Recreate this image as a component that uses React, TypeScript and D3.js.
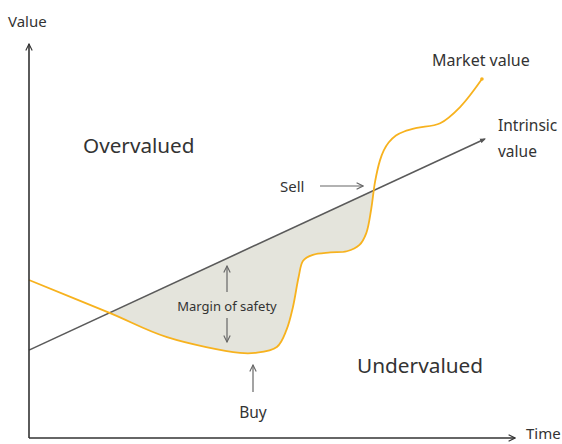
import React, { useEffect, useRef } from "react";
import * as d3 from "d3";

// market value curve (time, value)
const marketTime = [0, 1.67, 2.84, 4.34, 4.65, 5.1, 5.3, 5.43, 5.55, 5.64, 5.84, 6.2, 6.54, 6.8, 6.94, 7.04, 7.12, 7.22, 7.3, 7.4, 7.55, 7.72, 7.98, 8.46, 8.87, 9.32];
const marketValue = [4.01, 3.17, 2.56, 2.16, 2.16, 2.31, 2.75, 3.32, 4.1, 4.5, 4.65, 4.71, 4.74, 4.9, 5.2, 5.8, 6.5, 7.04, 7.3, 7.5, 7.68, 7.78, 7.87, 7.99, 8.4, 9.11];

// intrinsic value straight line
const intrinsicTime = [0, 9.38];
const intrinsicValue = [2.23, 7.59];

const width = 562;
const height = 444;

function App() {
  const ref = useRef<SVGSVGElement>(null);

  useEffect(() => {
    const svg = d3.select(ref.current);
    svg.selectAll("*").remove();

    const x = d3.scaleLinear().domain([0, 10]).range([29, 515]);
    const y = d3.scaleLinear().domain([0, 10]).range([438, 44]);

    const market = marketTime.map((t, i) => [t, marketValue[i]] as [number, number]);
    const intrinsic = intrinsicTime.map((t, i) => [t, intrinsicValue[i]] as [number, number]);
    const curve = d3.curveCatmullRom.alpha(0.5);

    const defs = svg.append("defs");
    const arrow = (id: string, color: string) =>
      defs
        .append("marker")
        .attr("id", id)
        .attr("viewBox", "0 0 10 10")
        .attr("refX", 9)
        .attr("refY", 5)
        .attr("markerWidth", 8)
        .attr("markerHeight", 8)
        .attr("markerUnits", "userSpaceOnUse")
        .attr("orient", "auto")
        .append("path")
        .attr("d", "M1,1 L9,5 L1,9")
        .attr("fill", "none")
        .attr("stroke", color)
        .attr("stroke-width", 1.4);
    arrow("axisArrow", "#333");
    arrow("thinArrow", "#666");

    defs
      .append("marker")
      .attr("id", "tri")
      .attr("viewBox", "0 0 10 10")
      .attr("refX", 8)
      .attr("refY", 5)
      .attr("markerWidth", 6)
      .attr("markerHeight", 6)
      .attr("markerUnits", "userSpaceOnUse")
      .attr("orient", "auto")
      .append("path")
      .attr("d", "M0,1 L10,5 L0,9 Z")
      .attr("fill", "#555");

    // clip: everything below the intrinsic line
    const clipLine = d3.line<[number, number]>().x((d) => x(d[0])).y((d) => y(d[1]));
    defs
      .append("clipPath")
      .attr("id", "belowIntrinsic")
      .append("path")
      .attr("d", clipLine([...intrinsic, [intrinsicTime[1], 0], [0, 0]]) + "Z");

    // margin of safety: above market, below intrinsic
    const gap = d3
      .area<[number, number]>()
      .x((d) => x(d[0]))
      .y0(y(10))
      .y1((d) => y(d[1]))
      .curve(curve);
    svg
      .append("path")
      .datum(market)
      .attr("d", gap)
      .attr("fill", "#e4e4dc")
      .attr("clip-path", "url(#belowIntrinsic)");

    // intrinsic value
    svg
      .append("path")
      .datum(intrinsic)
      .attr("d", d3.line<[number, number]>().x((d) => x(d[0])).y((d) => y(d[1])))
      .attr("fill", "none")
      .attr("stroke", "#5a5a5a")
      .attr("stroke-width", 1.6)
      .attr("marker-end", "url(#tri)");

    // market value
    svg
      .append("path")
      .datum(market)
      .attr("d", d3.line<[number, number]>().x((d) => x(d[0])).y((d) => y(d[1])).curve(curve))
      .attr("fill", "none")
      .attr("stroke", "#f7b21e")
      .attr("stroke-width", 1.8);
    const last = market[market.length - 1];
    svg.append("circle").attr("cx", x(last[0])).attr("cy", y(last[1])).attr("r", 1.8).attr("fill", "#f7b21e");

    // axes
    svg
      .append("line")
      .attr("x1", x(0)).attr("y1", y(0))
      .attr("x2", x(0)).attr("y2", y(10))
      .attr("stroke", "#333").attr("stroke-width", 1.6)
      .attr("marker-end", "url(#axisArrow)");
    svg
      .append("line")
      .attr("x1", x(0)).attr("y1", y(0))
      .attr("x2", x(10)).attr("y2", y(0))
      .attr("stroke", "#333").attr("stroke-width", 1.6)
      .attr("marker-end", "url(#axisArrow)");

    const text = (s: string, tx: number, ty: number, size: number, anchor = "start") =>
      svg
        .append("text")
        .attr("x", tx)
        .attr("y", ty)
        .attr("font-size", size)
        .attr("text-anchor", anchor)
        .attr("fill", "#333")
        .attr("font-family", "'Noto Sans', 'Open Sans', sans-serif")
        .text(s);

    text("Value", 8, 27, 15);
    text("Time", 526, 439, 15);
    text("Overvalued", 83, 153, 20.7);
    text("Undervalued", 357, 373, 20.8);
    text("Market value", 432, 66, 16);
    text("Intrinsic", 498, 131, 15.5);
    text("value", 498, 157, 15.5);
    text("Sell", 280, 192, 15);
    text("Margin of safety", 227, 311, 13, "middle");
    text("Buy", 253, 418, 15.5, "middle");

    const pointer = (x1: number, y1: number, x2: number, y2: number) =>
      svg
        .append("line")
        .attr("x1", x1).attr("y1", y1)
        .attr("x2", x2).attr("y2", y2)
        .attr("stroke", "#666").attr("stroke-width", 1.2)
        .attr("marker-end", "url(#thinArrow)");

    pointer(320, 186, 363, 186);
    pointer(227, 292, 227, 266);
    pointer(227, 318, 227, 342);
    pointer(253, 392, 253, 365);
  }, []);

  return (
    <svg
      ref={ref}
      width={width}
      height={height}
      style={{ position: "absolute", left: 0, top: 0, background: "#fff" }}
    />
  );
}

export default App;
